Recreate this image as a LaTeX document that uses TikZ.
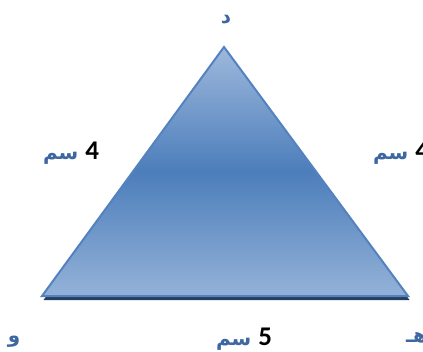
\documentclass[tikz,border=0pt]{standalone}
\usepackage{fontspec}
\newfontfamily\arabicfont[Script=Arabic]{DejaVu Sans}
\newfontfamily\numfont{Carlito}
\TeXXeTstate=1
\definecolor{lblblue}{RGB}{62,103,161}
\definecolor{edgeblue}{RGB}{84,130,190}
\definecolor{toplight}{RGB}{158,184,220}
\definecolor{midblue}{RGB}{76,126,187}
\definecolor{botlight}{RGB}{148,178,216}
\definecolor{shadownavy}{RGB}{38,62,96}
\begin{document}
\begin{tikzpicture}[x=1pt,y=-1pt,
  arlbl/.style={inner sep=0pt,text=lblblue,font=\arabicfont\bfseries\fontsize{20}{24}\selectfont}]
\useasboundingbox (0,0) rectangle (423,351);
% vertices
\coordinate (D) at (224,47);
\coordinate (W) at (42,296);
\coordinate (H) at (408,296);
% shadow
\fill[shadownavy] ([shift={(1.5,4)}]D) -- ([shift={(1.5,4)}]W) -- ([shift={(1.5,4)}]H) -- cycle;
% triangle
\shade[top color=toplight,bottom color=botlight,middle color=midblue] (D) -- (W) -- (H) -- cycle;
\draw[edgeblue,line width=2pt,line join=miter] (D) -- (W) -- (H) -- cycle;
% vertex labels
\node[arlbl,anchor=base] (lD) at (226,23) {\beginR د\endR};
\node[arlbl,anchor=base] (lW) at (14,342) {\beginR و\endR};
\node[arlbl,anchor=base west] (lH) at (406,342) {\beginR هـ\endR};
% side labels
\node[arlbl,anchor=base] (sL) at (71,159) {\beginR{\numfont\fontsize{27}{30}\selectfont\color{black}4} سم\endR};
\node[arlbl,anchor=base] (sR) at (401,159) {\beginR{\numfont\fontsize{27}{30}\selectfont\color{black}4} سم\endR};
\node[arlbl,anchor=base] (sB) at (244,345) {\beginR{\numfont\fontsize{27}{30}\selectfont\color{black}5} سم\endR};
\end{tikzpicture}
\end{document}
